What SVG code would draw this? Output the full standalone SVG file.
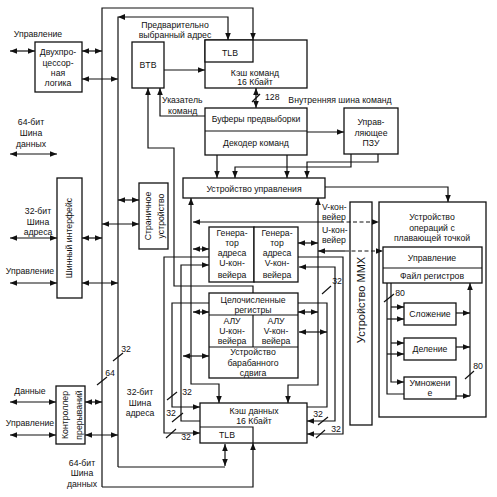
<svg xmlns="http://www.w3.org/2000/svg" width="497" height="497" viewBox="0 0 497 497">
<defs>
<marker id="a" viewBox="0 0 10 8" refX="10" refY="4" markerWidth="7" markerHeight="5.6" markerUnits="userSpaceOnUse" orient="auto-start-reverse"><path d="M0,0 L10,4 L0,8 z" fill="#111"/></marker>
<style>
.b{fill:#fff;stroke:#111;stroke-width:1.3}
.n{fill:none;stroke:#111;stroke-width:1.3}
.c{fill:none;stroke:#111;stroke-width:1.2}
.e{marker-end:url(#a)}
.s{marker-start:url(#a)}
.d{marker-start:url(#a);marker-end:url(#a)}
.ds{stroke-dasharray:4,2.5}
text{font-family:"Liberation Sans",Arial,sans-serif;font-size:8.7px;fill:#111;text-anchor:middle}
.l{text-anchor:start}
</style>
</defs>
<rect width="497" height="497" fill="#fff"/>

<g id="connectors">
<!-- buses -->
<path class="c e" d="M102,487 V8 H253 V40"/>
<path class="c e" d="M102,487 H253 V443"/>
<path class="c e" d="M118,467 V17 H228 V40"/>
<path d="M118,17 L125,14 L125,20 z" fill="#111"/>
<path class="c" d="M118,467 H225"/>
<line class="c d" x1="225" y1="444" x2="225" y2="466"/>
<!-- left ext -->
<line class="c d" x1="10" y1="51" x2="35" y2="51"/>
<line class="c d" x1="82" y1="51" x2="102" y2="51"/>
<line class="c d" x1="82" y1="79" x2="118" y2="79"/>
<line class="c d" x1="10" y1="154" x2="57" y2="154"/>
<line class="c d" x1="10" y1="238" x2="57" y2="238"/>
<line class="c d" x1="82" y1="238" x2="102" y2="238"/>
<line class="c d" x1="10" y1="283" x2="57" y2="283"/>
<line class="c d" x1="82" y1="283" x2="118" y2="283"/>
<line class="c d" x1="102" y1="224" x2="139" y2="224"/>
<line class="c d" x1="118" y1="200" x2="139" y2="200"/>
<line class="c d" x1="10" y1="402" x2="56" y2="402"/>
<line class="c d" x1="85" y1="402" x2="102" y2="402"/>
<line class="c d" x1="10" y1="435" x2="56" y2="435"/>
<line class="c d" x1="85" y1="435" x2="118" y2="435"/>
<line class="c" x1="97" y1="385" x2="107" y2="377"/>
<line class="c" x1="113" y1="361" x2="123" y2="353"/>
<!-- BTB / I-cache -->
<line class="c e" x1="164" y1="70" x2="205" y2="70"/>
<path class="c e" d="M205,116 H160 V88"/>
<path class="c e" d="M253,293 V286 H174 V148 H148 V88"/>
<line class="c d" x1="256" y1="88" x2="256" y2="108"/>
<line class="c" x1="252" y1="102" x2="260" y2="94"/>
<line class="c e" x1="307" y1="132" x2="344" y2="132"/>
<line class="c e" x1="217" y1="155" x2="217" y2="178"/>
<line class="c e" x1="287" y1="155" x2="287" y2="178"/>
<path class="c e" d="M351,154 V167 H235 V178"/>
<path class="c e" d="M378,154 V162 H307 V178"/>
<path class="c e" d="M325,187 H448 V202"/>
<!-- left verticals -->
<path class="c d" d="M191,198 V384 H219 V403"/>
<line class="c d" x1="193" y1="249" x2="209" y2="249"/>
<line class="c d" x1="193" y1="312" x2="209" y2="312"/>
<path class="c s" d="M209,265 H181 V421 H200"/>
<line class="c d" x1="183" y1="356" x2="209" y2="356"/>
<path class="c e" d="M209,303 H172 V407 H200"/>
<path class="c e" d="M209,257 H164 V433 H200"/>
<line class="c" x1="167" y1="400" x2="177" y2="392"/>
<line class="c" x1="172" y1="422" x2="183" y2="413"/>
<line class="c" x1="166" y1="438" x2="176" y2="429"/>
<!-- pipelines -->
<line class="c s" x1="193" y1="222" x2="340" y2="222"/>
<line class="c ds e" x1="340" y1="222" x2="379" y2="222"/>
<line class="c s" x1="318" y1="251" x2="345" y2="251"/>
<line class="c ds e" x1="345" y1="251" x2="383" y2="251"/>
<!-- right verticals -->
<path class="c d" d="M318,198 V385 H288 V403"/>
<line class="c d" x1="298" y1="243" x2="318" y2="243"/>
<line class="c d" x1="298" y1="312" x2="318" y2="312"/>
<path class="c e" d="M298,257 H343 V434 H307"/>
<path class="c d" d="M299,267 H335 V421 H307"/>
<path class="c" d="M298,303 H327 V407 H307"/>
<line class="c d" x1="299" y1="332" x2="327" y2="332"/>
<line class="c" x1="322" y1="294" x2="331" y2="286"/>
<line class="c" x1="318" y1="425" x2="328" y2="417"/>
<line class="c" x1="316" y1="438" x2="325" y2="430"/>
<!-- FPU internals -->
<path class="c" d="M387,283 V394 H404"/>
<path class="c e" d="M391,283 V382 H404"/>
<line class="c e" x1="391" y1="307" x2="404" y2="307"/>
<line class="c e" x1="387" y1="319" x2="404" y2="319"/>
<line class="c e" x1="391" y1="343" x2="404" y2="343"/>
<line class="c e" x1="387" y1="354" x2="404" y2="354"/>
<line class="c" x1="384" y1="302" x2="394" y2="294"/>
<line class="c e" x1="456" y1="313" x2="470" y2="313"/>
<line class="c e" x1="456" y1="347" x2="470" y2="347"/>
<line class="c e" x1="456" y1="396" x2="470" y2="396"/>
<line class="c e" x1="470" y1="396" x2="470" y2="283"/>
<line class="c" x1="465" y1="379" x2="474" y2="371"/>
</g>

<g id="dual"><rect class="b" x="35" y="42" width="47" height="50"/>
<text x="58" y="55">Двухпро-</text><text x="58" y="66">цессор-</text><text x="58" y="76">ная</text><text x="58" y="86">логика</text></g>
<g id="bus-if"><rect class="b" x="57" y="178" width="25" height="120"/>
<text transform="translate(72,238) rotate(-90)">Шинный интерфейс</text></g>
<g id="paging"><rect class="b" x="139" y="183" width="29" height="66"/>
<text transform="translate(150.5,216) rotate(-90)">Страничное</text><text transform="translate(163.5,216) rotate(-90)">устройство</text></g>
<g id="irq"><rect class="b" x="56" y="386" width="29" height="58"/>
<text transform="translate(67.5,415) rotate(-90)">Контроллер</text><text transform="translate(81.5,415) rotate(-90)">прерываний</text></g>
<g id="btb"><rect class="b" x="132" y="42" width="32" height="46"/><text x="148" y="68">BTB</text></g>
<g id="icache"><rect class="b" x="205" y="40" width="102" height="48"/><rect class="b" x="205" y="40" width="48" height="22"/>
<text x="230" y="56">TLB</text><text x="255" y="76">Кэш команд</text><text x="255" y="85">16 Кбайт</text></g>
<g id="prefetch"><rect class="b" x="205" y="108" width="102" height="47"/><line class="c" x1="205" y1="131" x2="307" y2="131"/>
<text x="256" y="122">Буферы предвыборки</text><text x="256" y="146">Декодер команд</text></g>
<g id="rom"><rect class="b" x="344" y="108" width="54" height="46"/>
<text x="371" y="125">Управ-</text><text x="371" y="136">ляющее</text><text x="371" y="146">ПЗУ</text></g>
<g id="ctrl"><rect class="b" x="183" y="178" width="142" height="20"/><text x="254" y="192">Устройство управления</text></g>
<g id="agu-u"><rect class="b" x="209" y="227" width="45" height="55"/>
<text x="232" y="236">Генера-</text><text x="232" y="246">тор</text><text x="232" y="256">адреса</text><text x="232" y="266">U-кон-</text><text x="232" y="278">вейера</text></g>
<g id="agu-v"><rect class="b" x="254" y="227" width="44" height="55"/>
<text x="277" y="236">Генера-</text><text x="277" y="246">тор</text><text x="277" y="256">адреса</text><text x="277" y="266">V-кон-</text><text x="277" y="278">вейера</text></g>
<g id="int"><rect class="b" x="209" y="293" width="89" height="85"/>
<line class="c" x1="209" y1="315" x2="298" y2="315"/><line class="c" x1="209" y1="347" x2="298" y2="347"/><line class="c" x1="253" y1="315" x2="253" y2="347"/>
<text x="253" y="303">Целочисленные</text><text x="253" y="313">регистры</text>
<text x="232" y="324">АЛУ</text><text x="232" y="334">U-кон-</text><text x="232" y="344">вейера</text>
<text x="276" y="324">АЛУ</text><text x="276" y="334">V-кон-</text><text x="276" y="344">вейера</text>
<text x="253" y="355">Устройство</text><text x="253" y="366">барабанного</text><text x="253" y="376">сдвига</text></g>
<g id="dcache"><rect class="b" x="200" y="403" width="107" height="40"/><path class="c" d="M200,427 H253 V443"/>
<text x="254" y="414">Кэш данных</text><text x="254" y="424">16 Кбайт</text><text x="227" y="438">TLB</text></g>
<g id="mmx"><rect class="n" x="350" y="202" width="22" height="223"/>
<text transform="translate(365,300) rotate(-90)" style="font-size:11px">Устройство MMX</text></g>
<g id="fpu"><rect class="n" x="379" y="202" width="107" height="215"/>
<text x="432" y="220">Устройство</text><text x="432" y="231">операций с</text><text x="432" y="241">плавающей точкой</text>
<rect class="b" x="383" y="247" width="99" height="36"/><line class="c" x1="383" y1="268" x2="482" y2="268"/>
<text x="432" y="261">Управление</text><text x="432" y="279">Файл регистров</text>
<rect class="b" x="404" y="303" width="52" height="22"/><text x="430" y="317">Сложение</text>
<rect class="b" x="404" y="338" width="52" height="22"/><text x="430" y="352">Деление</text>
<rect class="b" x="404" y="377" width="52" height="22"/><text x="430" y="386">Умножени</text><text x="430" y="396">е</text></g>

<g id="labels">
<text x="38" y="37">Управление</text>
<text x="31" y="125">64-бит</text><text x="31" y="136">Шина</text><text x="31" y="147">данных</text>
<text x="38" y="214">32-бит</text><text x="38" y="225">Шина</text><text x="38" y="235">адреса</text>
<text x="30" y="274">Управление</text>
<text x="30" y="394">Данные</text><text x="30" y="426">Управление</text>
<text x="126" y="352">32</text><text x="110" y="376">64</text>
<text x="140" y="395">32-бит</text><text x="140" y="406">Шина</text><text x="140" y="416">адреса</text>
<text x="82" y="466">64-бит</text><text x="82" y="476">Шина</text><text x="82" y="487">данных</text>
<text x="175" y="28">Предварительно</text><text x="175" y="38">выбранный адрес</text>
<text x="265" y="100" class="l">128</text>
<text x="162" y="103" class="l">Указатель</text><text x="168" y="114" class="l">команд</text>
<text x="340" y="103">Внутренняя шина команд</text>
<text x="322" y="210" class="l">V-кон-</text><text x="322" y="220" class="l">вейер</text>
<text x="322" y="233" class="l">U-кон-</text><text x="322" y="243" class="l">вейер</text>
<text x="337" y="284">32</text>
<text x="187" y="395">32</text><text x="171" y="416">32</text><text x="186" y="440">32</text>
<text x="318" y="417">32</text><text x="336" y="432">32</text>
<text x="400" y="296">80</text><text x="478" y="369">80</text>
</g>
</svg>
